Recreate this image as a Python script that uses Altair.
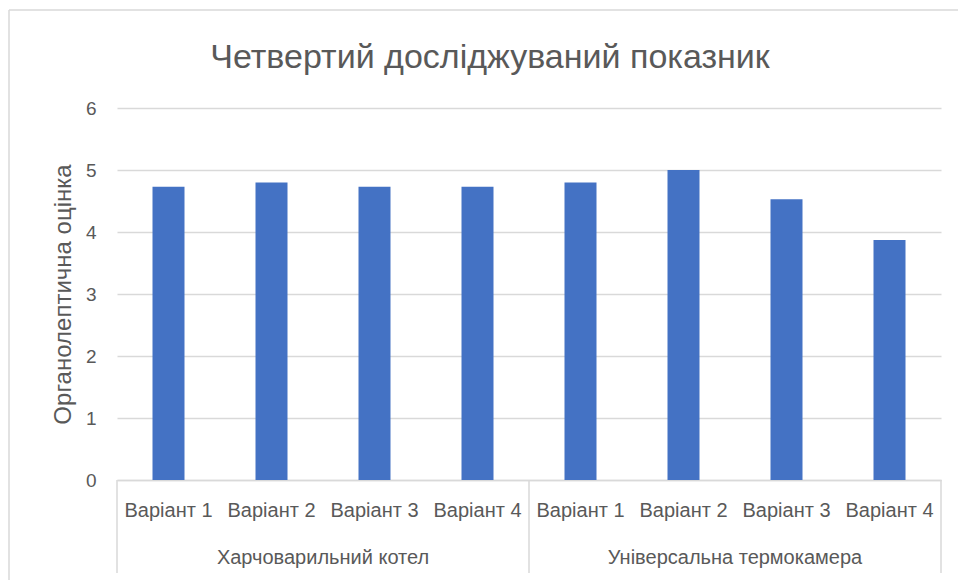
import altair as alt
import pandas as pd

title_text = "Четвертий досліджуваний показник"
groups = ["Харчоварильний котел"] * 4 + ["Універсальна термокамера"] * 4
variants = ["Варіант 1", "Варіант 2", "Варіант 3", "Варіант 4"] * 2
values = [4.73, 4.8, 4.73, 4.73, 4.8, 5.0, 4.53, 3.87]
y_ticks = [0, 1, 2, 3, 4, 5, 6]

df = pd.DataFrame({
    "group": groups,
    "variant": variants,
    "value": values,
})
df["pos"] = [i + 0.5 for i in range(len(df))]

grp = df.groupby("group", sort=False)["pos"].agg(["min", "max", "mean"]).reset_index()
bounds = sorted(set([r - 0.5 for r in grp["min"]] + [r + 0.5 for r in grp["max"]]))
bdf = pd.DataFrame({"b": bounds})
tdf = pd.DataFrame({"t": [title_text]})

W, H = 824, 372
FONT = "Liberation Sans"
GRAY = "#595959"
LINE = "#d9d9d9"

xscale = alt.Scale(domain=[0, len(df)], nice=False, zero=True, padding=0)

bars = alt.Chart(df).mark_bar(color="#4472C4", size=32).encode(
    x=alt.X("pos:Q", scale=xscale,
            axis=alt.Axis(labels=False, ticks=False, grid=False, title=None,
                          domainColor=LINE, domainWidth=1.5)),
    y=alt.Y("value:Q", scale=alt.Scale(domain=[0, 6], nice=False),
            axis=alt.Axis(values=y_ticks, title="Органолептична оцінка",
                          grid=True, gridColor=LINE, gridWidth=1.5,
                          domain=False, ticks=False, labelPadding=21,
                          labelFontSize=19, labelColor=GRAY, labelFont=FONT,
                          titleFontSize=24, titleFontWeight="normal",
                          titleColor=GRAY, titleFont=FONT, titlePadding=10)),
)

vlabels = alt.Chart(df).mark_text(fontSize=20, color=GRAY, font=FONT, baseline="middle").encode(
    x=alt.X("pos:Q", scale=xscale),
    y=alt.value(H + 31),
    text="variant:N",
)

glabels = alt.Chart(grp).mark_text(fontSize=20, color=GRAY, font=FONT, baseline="middle").encode(
    x=alt.X("mean:Q", scale=xscale),
    y=alt.value(H + 78),
    text="group:N",
)

seps = alt.Chart(bdf).mark_rule(color=LINE, strokeWidth=1.5).encode(
    x=alt.X("b:Q", scale=xscale),
    y=alt.value(H),
    y2=alt.value(H + 93),
)

title = alt.Chart(tdf).mark_text(fontSize=34, color=GRAY, font=FONT, baseline="alphabetic").encode(
    x=alt.value(W / 2 - 39),
    y=alt.value(-40),
    text="t:N",
)

frame_top = alt.Chart(bdf.head(1)).mark_rule(color=LINE, strokeWidth=1.5).encode(
    x=alt.value(-108), x2=alt.value(W + 40), y=alt.value(-98),
)
frame_left = alt.Chart(bdf.head(1)).mark_rule(color=LINE, strokeWidth=1.5).encode(
    x=alt.value(-108), y=alt.value(-98), y2=alt.value(H + 110),
)

chart = alt.layer(frame_top, frame_left, title, bars, seps, vlabels, glabels).properties(
    width=W, height=H,
    autosize=alt.AutoSizeParams(type="none"),
    padding={"left": 117, "top": 108, "right": 17, "bottom": 100},
).configure_view(stroke=None)

chart.save("out.html", embed_options={"renderer": "svg", "actions": False})
